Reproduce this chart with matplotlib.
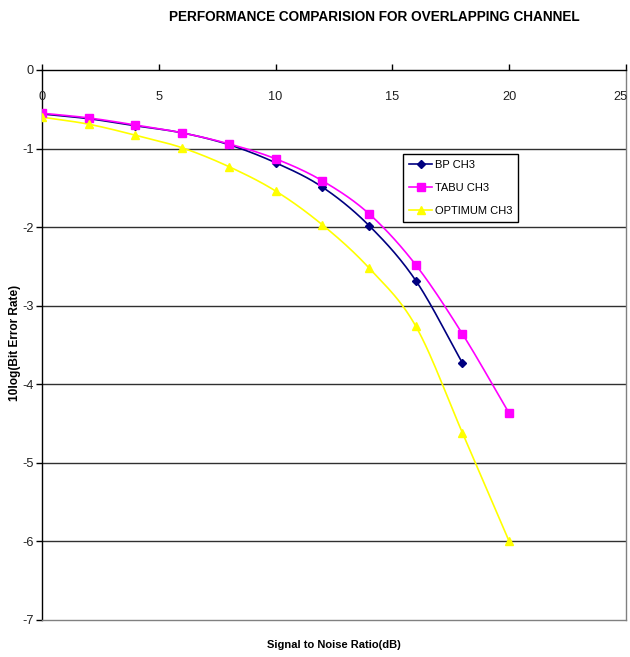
import numpy as np
import matplotlib
matplotlib.use("Agg")
import matplotlib.pyplot as plt
from matplotlib.lines import Line2D

plt.rcParams['font.family'] = ['Liberation Sans', 'DejaVu Sans']

# Data
snr = [0, 2, 4, 6, 8, 10, 12, 14, 16, 18, 20]
bp_ch3 = [-0.56, -0.62, -0.71, -0.80, -0.95, -1.18, -1.49, -1.98, -2.68, -3.73]
tabu_ch3 = [-0.55, -0.61, -0.70, -0.80, -0.94, -1.13, -1.41, -1.83, -2.48, -3.36, -4.37]
optimum_ch3 = [-0.60, -0.69, -0.83, -0.99, -1.23, -1.54, -1.97, -2.52, -3.26, -4.62, -6.00]

series_names = ["BP CH3", "TABU CH3", "OPTIMUM CH3"]
series_vals = [bp_ch3, tabu_ch3, optimum_ch3]
colors = ["#000080", "#FF00FF", "#FFFF00"]
markers = ["D", "s", "^"]
msizes = [4.5, 6, 6]

xticks = [0, 5, 10, 15, 20, 25]
yticks = [0, -1, -2, -3, -4, -5, -6, -7]


def smooth(xs, ys, steps=24):
    """Catmull-Rom style smoothed polyline through the given points."""
    xs = np.asarray(xs, float)
    ys = np.asarray(ys, float)
    px = np.concatenate([[2 * xs[0] - xs[1]], xs, [2 * xs[-1] - xs[-2]]])
    py = np.concatenate([[2 * ys[0] - ys[1]], ys, [2 * ys[-1] - ys[-2]]])
    outx, outy = [], []
    t = np.linspace(0, 1, steps, endpoint=False)
    for i in range(1, len(px) - 2):
        p0, p1, p2, p3 = [np.array([px[j], py[j]]) for j in (i - 1, i, i + 1, i + 2)]
        t2, t3 = t * t, t * t * t
        pts = 0.5 * ((2 * p1)[:, None] + (-p0 + p2)[:, None] * t
                     + (2 * p0 - 5 * p1 + 4 * p2 - p3)[:, None] * t2
                     + (-p0 + 3 * p1 - 3 * p2 + p3)[:, None] * t3)
        outx.extend(pts[0])
        outy.extend(pts[1])
    outx.append(xs[-1])
    outy.append(ys[-1])
    return np.array(outx), np.array(outy)


fig = plt.figure(figsize=(6.30, 6.57), dpi=100)
ax = fig.add_axes([42 / 630, 1 - 620 / 657, 584 / 630, 550 / 657])
ax.set_xlim(0, 25)
ax.set_ylim(-7, 0)

# horizontal gridlines
for yv in yticks[1:-1]:
    ax.axhline(yv, color="#303030", lw=1.0, zorder=1)

for name, vals, c, m, ms in zip(series_names, series_vals, colors, markers, msizes):
    xs = snr[:len(vals)]
    sx, sy = smooth(xs, vals)
    ax.plot(sx, sy, color=c, lw=1.2, zorder=3)
    ax.plot(xs, vals, linestyle="none", marker=m, color=c, markersize=ms,
            markeredgecolor=c, zorder=4)

# spines
ax.spines['top'].set_color('black')
ax.spines['left'].set_color('black')
ax.spines['right'].set_color('#808080')
ax.spines['bottom'].set_color('#808080')
for s in ax.spines.values():
    s.set_linewidth(1.0)

# x axis sits on the top edge (y = 0) with labels drawn just below it
ax.xaxis.set_ticks_position('top')
ax.set_xticks(xticks)
ax.tick_params(axis='x', direction='out', length=4, labeltop=False, labelbottom=False, width=1)
for xv in xticks:
    ha = 'right' if xv == xticks[-1] else 'center'
    dx = 1.5 if xv == xticks[-1] else 0
    ax.annotate(str(xv), xy=(xv, 0), xytext=(dx, -15), textcoords='offset points',
                ha=ha, va='top', fontsize=9.2, color='#202020')

ax.set_yticks(yticks)
ax.set_yticklabels([str(v) for v in yticks], fontsize=9.2, color='#202020')
ax.tick_params(axis='y', direction='out', length=4, width=1, pad=2)

fig.text(374 / 630, 1 - 17 / 657, "PERFORMANCE COMPARISION FOR OVERLAPPING CHANNEL",
         ha='center', va='center', fontsize=9.8, fontweight='bold')
fig.text(334 / 630, 1 - 645 / 657, "Signal to Noise Ratio(dB)",
         ha='center', va='center', fontsize=8.0, fontweight='bold')
fig.text(15 / 630, 1 - 343 / 657, "10log(Bit Error Rate)", rotation=90,
         ha='center', va='center', fontsize=8.6, fontweight='bold')

handles = [Line2D([], [], color=c, marker=m, markersize=ms, lw=1.2, markeredgecolor=c)
           for c, m, ms in zip(colors, markers, msizes)]
leg = ax.legend(handles, series_names, loc='upper left', bbox_to_anchor=(0.618, 0.847),
                borderaxespad=0, fancybox=False, framealpha=1, edgecolor='black',
                fontsize=8.0, handlelength=2.1, handletextpad=0.2, labelspacing=1.15,
                borderpad=0.55)
leg.get_frame().set_linewidth(1.0)

fig.savefig("out.png", dpi=100)
